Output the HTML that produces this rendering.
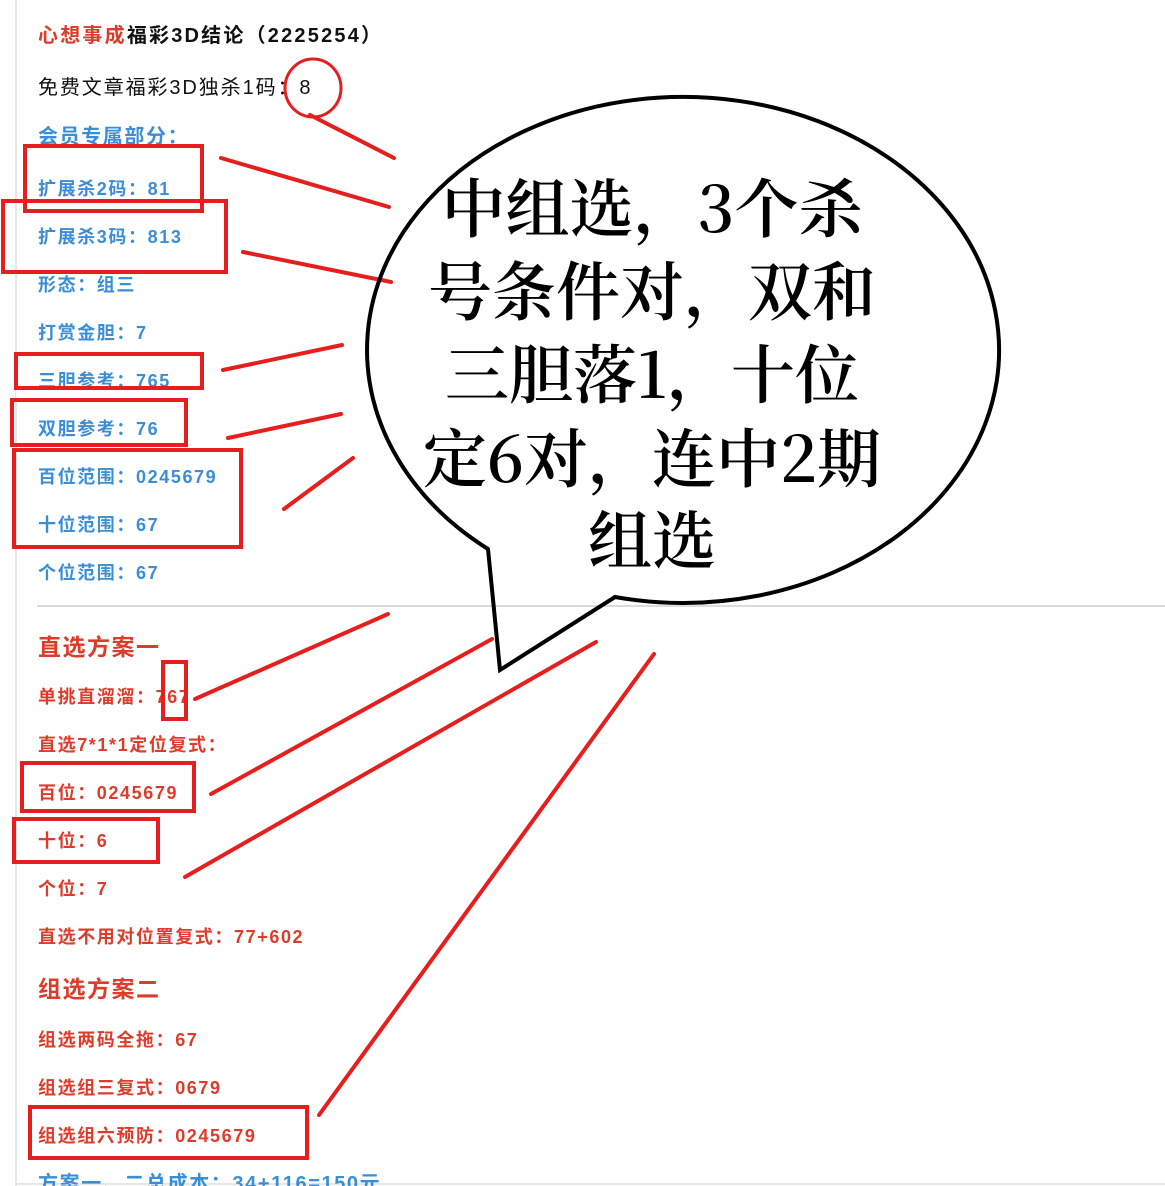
<!DOCTYPE html>
<html><head><meta charset="utf-8"><style>
html,body{margin:0;padding:0;background:#fff;}
body{width:1165px;height:1186px;overflow:hidden;position:relative;}
svg{position:absolute;left:0;top:0;}
.b{fill:#3a8ed6;font-weight:bold;font-size:18px;letter-spacing:1.6px;}
.r{fill:#df3b2a;font-weight:bold;font-size:18px;letter-spacing:1.6px;}
.h{fill:#df3b2a;font-weight:bold;font-size:23px;letter-spacing:1.5px;}
text{font-family:"Liberation Sans","Noto Sans CJK SC",sans-serif;}
.bub text{font-family:"Noto Serif CJK SC","Noto Serif CJK JP",serif;font-size:64px;font-weight:600;}
</style></head><body>
<svg width="1165" height="1186" viewBox="0 0 1165 1186">
<rect x="15" y="0" width="2" height="1186" fill="#e6e6e6"/>
<rect x="15" y="1183" width="1150" height="2" fill="#e6e6e6"/>
<line x1="37" y1="606" x2="1165" y2="606" stroke="#cfcfcf" stroke-width="1.5"/>

<text x="38" y="42" style="font-size:20px;font-weight:bold;letter-spacing:2.2px"><tspan fill="#df3b2a">心想事成</tspan><tspan fill="#111">福彩3D结论（2225254）</tspan></text>
<text x="38" y="94" style="font-size:20px;letter-spacing:1.9px" fill="#111">免费文章福彩3D独杀1码：8</text>
<text x="38" y="143" class="b" style="font-size:20px">会员专属部分：</text>
<text x="38" y="195" class="b">扩展杀2码：81</text>
<text x="38" y="243" class="b">扩展杀3码：813</text>
<text x="38" y="291" class="b">形态：组三</text>
<text x="38" y="339" class="b">打赏金胆：7</text>
<text x="38" y="387" class="b">三胆参考：765</text>
<text x="38" y="435" class="b">双胆参考：76</text>
<text x="38" y="483" class="b">百位范围：0245679</text>
<text x="38" y="531" class="b">十位范围：67</text>
<text x="38" y="579" class="b">个位范围：67</text>

<text x="38" y="655" class="h">直选方案一</text>
<text x="38" y="703" class="r">单挑直溜溜：767</text>
<text x="38" y="751" class="r">直选7*1*1定位复式：</text>
<text x="38" y="799" class="r">百位：0245679</text>
<text x="38" y="847" class="r">十位：6</text>
<text x="38" y="895" class="r">个位：7</text>
<text x="38" y="943" class="r">直选不用对位置复式：77+602</text>
<text x="38" y="997" class="h">组选方案二</text>
<text x="38" y="1046" class="r">组选两码全拖：67</text>
<text x="38" y="1094" class="r">组选组三复式：0679</text>
<text x="38" y="1142" class="r">组选组六预防：0245679</text>
<text x="38" y="1190" class="b" style="font-size:20px">方案一、二总成本：34+116=150元</text>

<rect x="20" y="146" width="185" height="8" fill="#fff"/>
<rect x="16" y="389" width="190" height="8" fill="#fff"/>

<g fill="none" stroke="#e61e1e" stroke-width="4">
<ellipse cx="313" cy="88" rx="28" ry="29" stroke-width="3"/>
<rect x="25" y="146" width="177" height="65"/>
<rect x="3" y="201" width="223" height="71"/>
<rect x="16" y="354" width="186" height="34"/>
<rect x="12" y="400" width="174" height="45"/>
<rect x="14" y="450" width="227" height="97"/>
<rect x="163" y="662" width="23" height="57"/>
<rect x="22" y="763" width="172" height="48"/>
<rect x="14" y="819" width="144" height="43"/>
<rect x="30" y="1107" width="277" height="51"/>
<g stroke-linecap="round">
<line x1="310" y1="115" x2="394" y2="158"/>
<line x1="221" y1="158" x2="389" y2="207"/>
<line x1="243" y1="252" x2="391" y2="282"/>
<line x1="223" y1="370" x2="342" y2="345"/>
<line x1="228" y1="438" x2="341" y2="414"/>
<line x1="284" y1="509" x2="353" y2="458"/>
<line x1="195" y1="699" x2="388" y2="614"/>
<line x1="211" y1="794" x2="492" y2="639"/>
<line x1="185" y1="877" x2="596" y2="642"/>
<line x1="319" y1="1115" x2="654" y2="654"/>
</g>
</g>

<path d="M488,549 L500,670 L615,597 A316,253 0 1 0 488,549 Z" fill="none" stroke="#000" stroke-width="4" stroke-linejoin="miter"/>

<g class="bub" fill="#000" text-anchor="middle">
<text x="652" y="232">中组选，3个杀</text>
<text x="652" y="315">号条件对，双和</text>
<text x="652" y="398">三胆落1，十位</text>
<text x="652" y="482">定6对，连中2期</text>
<text x="652" y="564">组选</text>
</g>
</svg>
</body></html>
